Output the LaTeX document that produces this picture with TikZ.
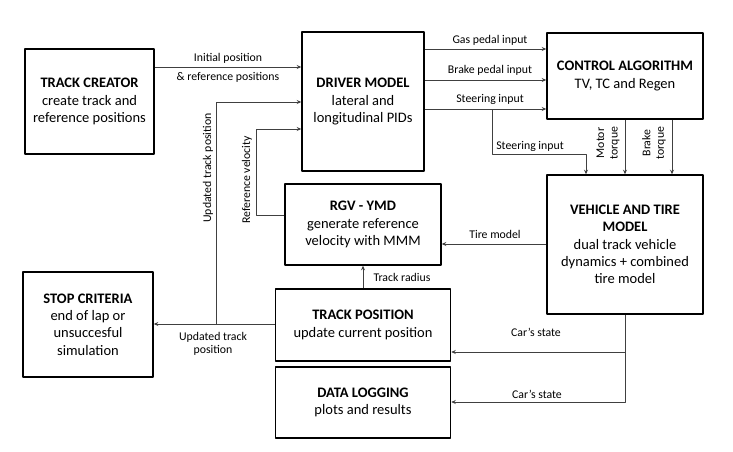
\documentclass[tikz,border=0pt]{standalone}
\usepackage{fontspec}
\setmainfont{Carlito}
\usetikzlibrary{arrows.meta}
\tikzset{
  block/.style={draw, line width=1.5pt, align=center, inner sep=0pt,
    font=\fontsize{14.5}{17.3}\selectfont},
  link/.style={line width=0.7pt, draw=black!75},
  arr/.style={link, -{Stealth[length=4.5pt,width=4pt]}},
  lbl/.style={font=\fontsize{11.8}{13.5}\selectfont, inner sep=0pt, align=center}
}
\begin{document}
\begin{tikzpicture}[x=1pt, y=-1pt, line join=round]
\useasboundingbox (0,0) rectangle (733,452);
% blocks
\node[block, minimum width=129pt, minimum height=105pt] (creator) at (89.5,101.5)
  {\textbf{TRACK CREATOR}\\create track and\\reference positions};
\node[block, minimum width=122pt, minimum height=139pt] (driver) at (363,101.5)
  {\textbf{DRIVER MODEL}\\lateral and\\longitudinal PIDs};
\node[block, minimum width=156pt, minimum height=86pt] (control) at (625,76)
  {\textbf{CONTROL ALGORITHM}\\TV, TC and Regen};
\node[block, minimum width=156pt, minimum height=139pt] (vehicle) at (625,244.5)
  {\textbf{VEHICLE AND TIRE}\\\textbf{MODEL}\\dual track vehicle\\dynamics + combined\\tire model};
\node[block, minimum width=156pt, minimum height=81pt] (rgv) at (363,224.5)
  {\textbf{RGV - YMD}\\generate reference\\velocity with MMM};
\node[block, minimum width=175pt, minimum height=72pt] (trackpos) at (363,325)
  {\textbf{TRACK POSITION}\\update current position};
\node[block, minimum width=175pt, minimum height=71pt] (logging) at (363,402.5)
  {\textbf{DATA LOGGING}\\plots and results};
\node[block, minimum width=130pt, minimum height=105pt] (stop) at (88,324.5)
  {\textbf{STOP CRITERIA}\\end of lap or\\unsuccesful\\simulation};
% helper points
\coordinate (upd) at (216,324);
\coordinate (updtop) at (216,102);
\coordinate (refv) at (256,129);
\coordinate (steer) at (492,109);
\coordinate (steerdn) at (586,154);
\coordinate (state) at (625,402);
% connectors
\draw[arr] (creator.east |- 0,67) -- (driver.west |- 0,67);
\draw[arr] (trackpos.west |- upd) -- (stop.east |- upd);
\draw[arr] (upd) -- (updtop) -- (driver.west |- updtop);
\draw[arr] (rgv.west |- 0,215) -| (refv) -- (driver.west |- refv);
\foreach \y in {49,80,109}
  \draw[arr] (driver.east |- 0,\y) -- (control.west |- 0,\y);
\draw[arr] (steer) |- (steerdn) -- (vehicle.north -| steerdn);
\foreach \x in {625,672}
  \draw[arr] (control.south -| \x,0) -- (vehicle.north -| \x,0);
\draw[arr] (vehicle.west |- 0,244) -- (rgv.east |- 0,244);
\draw[arr] (trackpos.north) -- (rgv.south);
\draw[arr] (vehicle.south) -- (state) -- (logging.east |- state);
\draw[arr] (vehicle.south |- 0,352) -- (trackpos.east |- 0,352);
% labels
\node[lbl] (linit) at (228,58) {Initial position};
\node[lbl] (lref) at (228,77) {\& reference positions};
\node[lbl] (lgas) at (490,40) {Gas pedal input};
\node[lbl] (lbrake) at (490,70) {Brake pedal input};
\node[lbl] (lsteer) at (490,99) {Steering input};
\node[lbl] (lsteer2) at (530,146) {Steering input};
\node[lbl, rotate=90] (lmotor) at (608,143) {Motor\\torque};
\node[lbl, rotate=90] (lbtorque) at (654,143) {Brake\\torque};
\node[lbl] (ltire) at (495,234) {Tire model};
\node[lbl] (lradius) at (402,277) {Track radius};
\node[lbl] (lstate1) at (536,332) {Car’s state};
\node[lbl] (lstate2) at (537,394) {Car’s state};
\node[lbl] (lupd) at (213,344) {Updated track\\position};
\node[lbl, rotate=90] (lupdv) at (208,168) {Updated track position};
\node[lbl, rotate=90] (lrefv) at (247,180) {Reference velocity};
\end{tikzpicture}
\end{document}
